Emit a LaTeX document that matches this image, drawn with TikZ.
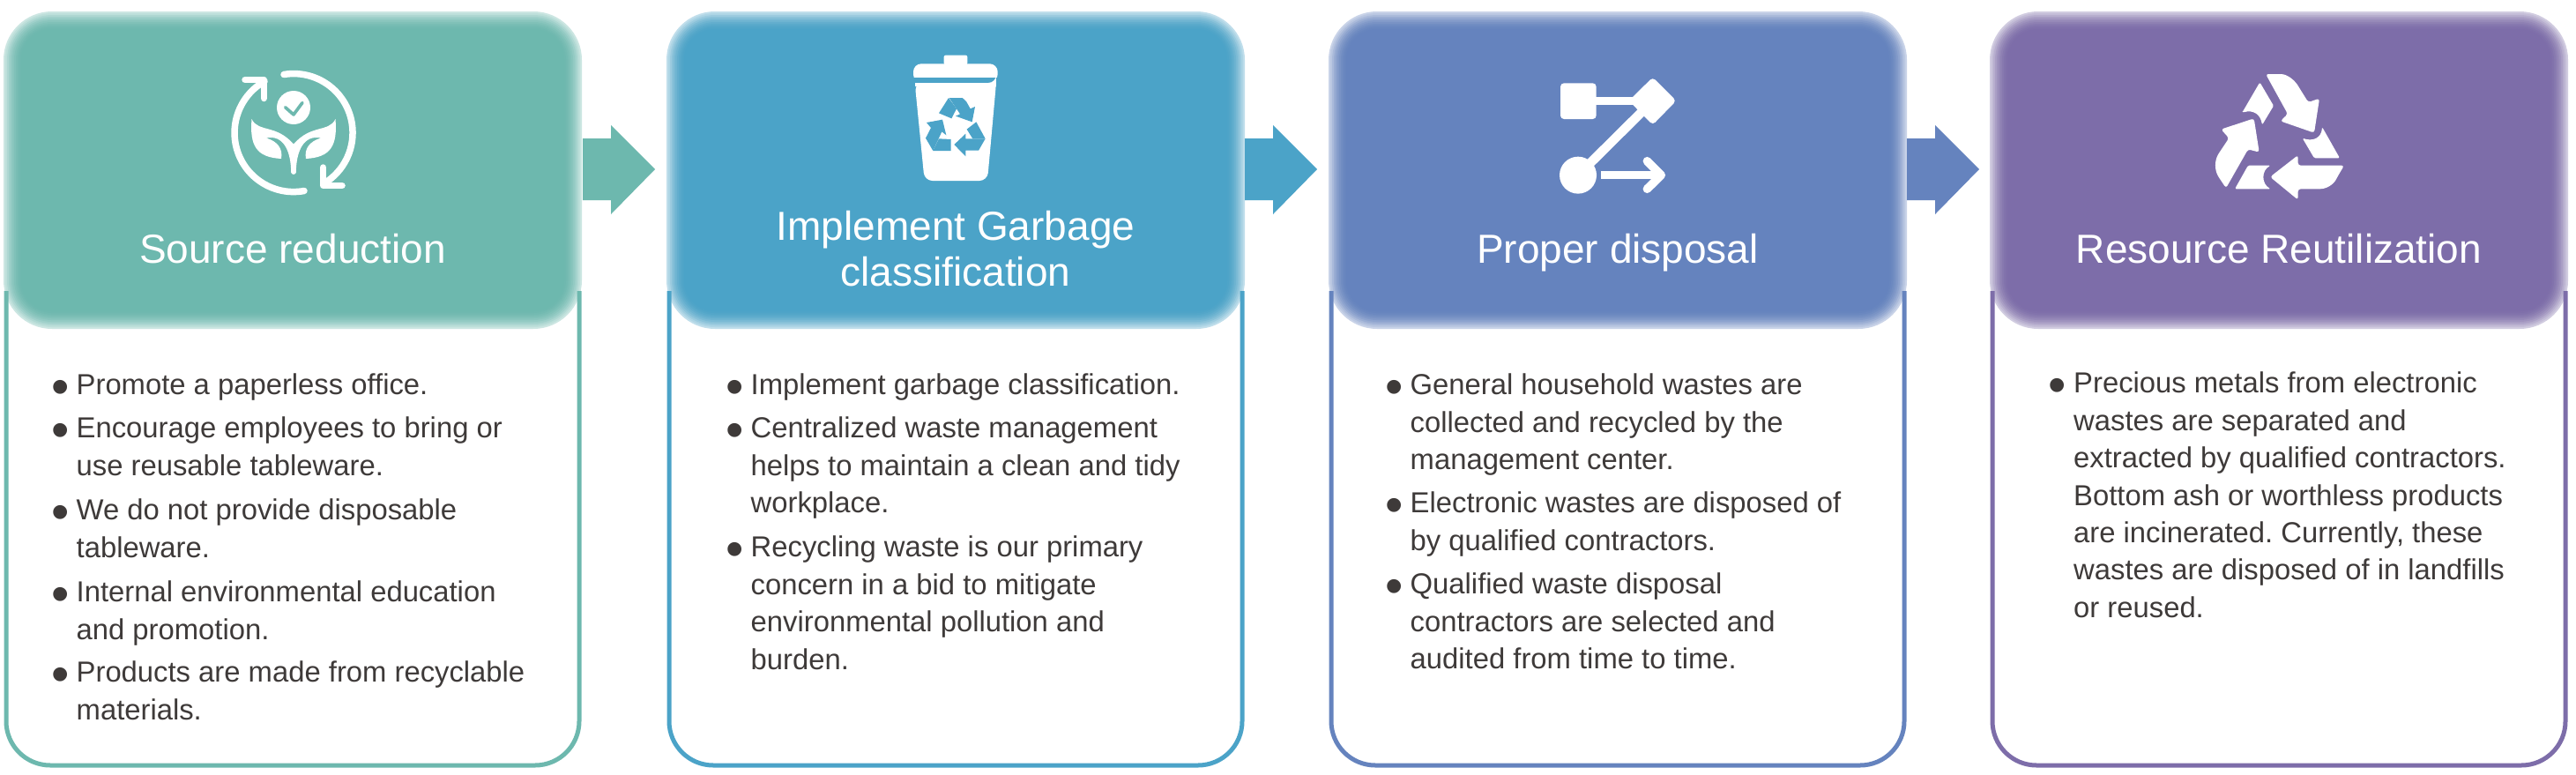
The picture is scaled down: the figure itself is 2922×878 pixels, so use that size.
\documentclass[tikz,border=0pt]{standalone}
\usepackage{fontspec}
\setmainfont{Liberation Sans}
\definecolor{cA}{HTML}{6DB8AE}
\definecolor{cB}{HTML}{4BA3C8}
\definecolor{cC}{HTML}{6583BE}
\definecolor{cD}{HTML}{7D6DA9}
\definecolor{ctxt}{HTML}{3E3A39}
\tikzset{
  bodybox/.style={draw=#1,line width=5pt,rounded corners=50pt},
  titletext/.style={text=white,font=\fontsize{46}{52}\selectfont,align=center,anchor=center,inner sep=0pt},
  bullet/.style={text=ctxt,font=\fontsize{32.8}{42.4}\selectfont\frenchspacing,align=left,anchor=north west,inner sep=0pt},
  flow/.style={fill=#1,draw=none},
  glyph/.style={fill=white,draw=none},
  glyphline/.style={draw=white,line width=7.5pt,line cap=round,line join=round}
}
\newcommand{\blt}{\llap{\smash{\fontsize{58}{42.4}\selectfont\raisebox{-11pt}{•}}\hspace{8pt}}}
\newcommand{\card}[3]{%
  \draw[bodybox=#2] (#1+3,330) -- (#1+3,868) -- (#1+653,868) -- (#1+653,330);
  \foreach \i/\o in {0/35,2/15,4/18,6/22,8/23,10/26,12/30,14/36,16/44,18/60,20/100}{
    \fill[#2,fill opacity=\o/100,rounded corners=55pt-\i*1pt]
      (#1+\i,13+\i) rectangle (#1+656-\i,373-\i);
  }
  \coordinate (#3) at (#1+328,282);
}
\begin{document}
\begin{tikzpicture}[x=1pt,y=-1pt]
\useasboundingbox (0,0) rectangle (2922,878);
\fill[white] (0,0) rectangle (2922,878);
% arrows
\foreach \x/\c in {661/cA,1412/cB,2163/cC}{
  \fill[flow=\c] (\x,157) -- (\x+32,157) -- (\x+32,142) -- (\x+82,192) -- (\x+32,243) -- (\x+32,227) -- (\x,227) -- cycle;
}
\card{4}{cA}{ta}
\card{756}{cB}{tb}
\card{1507}{cC}{tc}
\card{2257}{cD}{td}
\node[titletext] (tta) at (ta) {Source reduction};
\node[titletext] (ttb) at (tb) {Implement Garbage\\classification};
\node[titletext] (ttc) at ([yshift=-5pt]tc) {Proper disposal};
\node[titletext] (ttd) at (td) {Resource Reutilization};
% icon A
\begin{scope}[shift={(333,150.5)}]
  \draw[glyphline] (-11,-66) arc[start angle=-99.5,end angle=59.7,radius=67];
  \draw[glyphline] (12,66) arc[start angle=79.7,end angle=240.5,radius=67];
  \draw[glyphline] (-55,-60) -- (-33.7,-60) -- (-33.7,-39);
  \draw[glyphline] (33.7,39.5) -- (33.7,60) -- (55,60);
  \fill[white] (0,-28.5) circle (19);
  \draw[draw=cA,line width=3.6pt,line cap=round,line join=round] (-9.4,-28.8) -- (0,-20.5) -- (10,-34);
  \fill[white] (-47.5,-15.5) .. controls (-40,0) and (-20,-10) .. (0,13)
    .. controls (20,-10) and (40,0) .. (47.5,-15.5)
    .. controls (50,15) and (42,28) .. (14,29.5)
    .. controls (12,18) and (18,10) .. (31,6)
    .. controls (12,2) and (3,20) .. (2.8,45)
    .. controls (2.6,48) and (-2.6,48) .. (-2.8,45)
    .. controls (-3,20) and (-12,2) .. (-31,6)
    .. controls (-18,10) and (-12,18) .. (-14,29.5)
    .. controls (-42,28) and (-50,15) .. (-47.5,-15.5) -- cycle;
\end{scope}
% icon B
\begin{scope}[shift={(950,40)},scale=0.33333]
  \fill[white,rounded corners=2pt] (362,100) -- (362,68) -- (442,68) -- (442,100) -- cycle;
  \fill[white,rounded corners=9pt] (258,160) -- (258,97) -- (545,97) -- (545,160) -- cycle;
  \fill[cB] (250,145) rectangle (555,162);
  \fill[white,rounded corners=9pt] (263,162) -- (540,162) -- (540,162) -- (510,495) -- (296,495) -- cycle;
  \fill[white] (263,162) rectangle (540,175);
  \fill[cB] (345,265) -- (378,213) -- (405,250) -- (388,283) -- cycle;
  \fill[cB] (380,213) -- (425,213) -- (438,225) -- (452,250) -- (468,243) -- (458,295) -- (402,275) -- (417,268) -- cycle;
  \fill[cB] (440,320) -- (472,295) -- (503,352) -- (460,352) -- cycle;
  \fill[cB] (503,352) -- (480,392) -- (436,392) -- (436,412) -- (397,372) -- (436,335) -- (436,352) -- cycle;
  \fill[cB] (325,393) -- (300,350) -- (318,315) -- (303,297) -- (357,287) -- (370,340) -- (355,328) -- cycle;
  \fill[cB] (325,393) -- (345,352) -- (386,354) -- (386,393) -- cycle;
\end{scope}
% icon C
\begin{scope}[shift={(1700,50)},scale=0.33333]
  \fill[white,rounded corners=4pt] (210,133) rectangle (332,255);
  \fill[white] (330,180) rectangle (470,208);
  \draw[white,line width=10.5pt] (270,446) -- (525,193);
  \fill[white,rounded corners=4pt] (524,113) -- (604,193) -- (524,275) -- (443,193) -- cycle;
  \fill[white] (270,446) circle (63);
  \fill[white] (348,432) rectangle (545,460);
  \draw[glyphline,line width=9.5pt] (505,398) -- (553,446) -- (505,493);
\end{scope}
% icon D
\begin{scope}[shift={(2460,50)},scale=0.33333]
  \fill[white,rounded corners=3pt] (330,102) -- (372,102) .. controls (405,102) and (430,125) .. (445,150) -- (475,198) -- (513,185) -- (495,302) -- (380,262) -- (405,238) -- cycle;
  \fill[white,rounded corners=1.5pt] (250,233) -- (310,130) -- (357,210) -- (318,275) .. controls (312,240) and (290,222) .. (250,233) -- cycle;
  \fill[white,rounded corners=3pt] (178,290) -- (290,253) -- (308,368) -- (270,358) -- (195,490) -- (175,460) .. controls (155,430) and (155,395) .. (175,365) -- (205,320) -- cycle;
  \fill[white,rounded corners=1.5pt] (225,493) -- (270,413) -- (347,413) .. controls (315,430) and (315,475) .. (347,493) -- cycle;
  \fill[white,rounded corners=3pt] (597,413) -- (575,450) .. controls (560,480) and (535,493) .. (505,493) -- (440,493) -- (440,530) -- (345,452) -- (440,378) -- (440,413) -- cycle;
  \fill[white,rounded corners=1.5pt] (455,320) .. controls (490,332) and (520,320) .. (522,282) -- (582,388) -- (495,388) -- cycle;
\end{scope}
% text A
\node[bullet] (a1) at (86.5,424) {\blt Promote a paperless office.};
\node[bullet] (a2) at (86.5,473) {\blt Encourage employees to bring or\\use reusable tableware.};
\node[bullet] (a3) at (86.5,566) {\blt We do not provide disposable\\tableware.};
\node[bullet] (a4) at (86.5,659) {\blt Internal environmental education\\and promotion.};
\node[bullet] (a5) at (86.5,750) {\blt Products are made from recyclable\\materials.};
% text B
\node[bullet] (b1) at (851.5,424) {\blt Implement garbage classification.};
\node[bullet] (b2) at (851.5,473) {\blt Centralized waste management\\helps to maintain a clean and tidy\\workplace.};
\node[bullet] (b3) at (851.5,608) {\blt Recycling waste is our primary\\concern in a bid to mitigate\\environmental pollution and\\burden.};
% text C
\node[bullet] (c1) at (1599.5,424) {\blt General household wastes are\\collected and recycled by the\\management center.};
\node[bullet] (c2) at (1599.5,558) {\blt Electronic wastes are disposed of\\by qualified contractors.};
\node[bullet] (c3) at (1599.5,650) {\blt Qualified waste disposal\\contractors are selected and\\audited from time to time.};
% text D
\node[bullet] (d1) at (2352,422) {\blt Precious metals from electronic\\wastes are separated and\\extracted by qualified contractors.\\Bottom ash or worthless products\\are incinerated. Currently, these\\wastes are disposed of in landfills\\or reused.};
\end{tikzpicture}
\end{document}
